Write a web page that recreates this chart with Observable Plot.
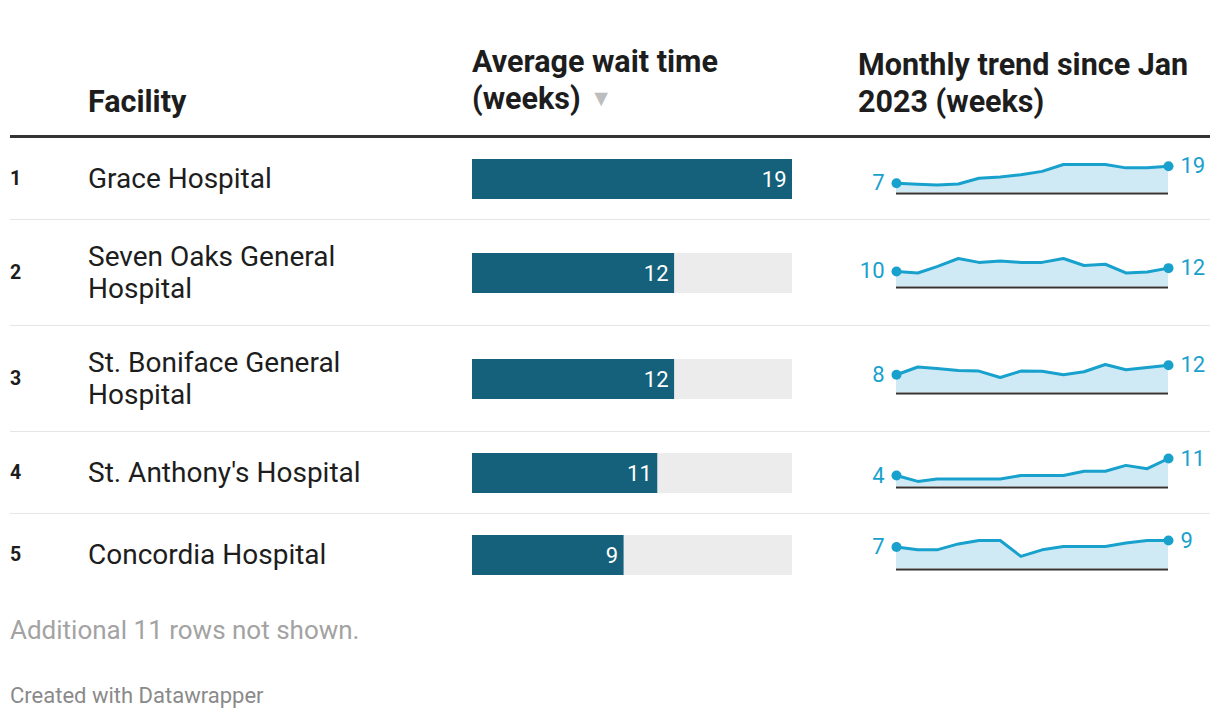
<!DOCTYPE html>
<html><head><meta charset="utf-8">
<script src="https://cdn.jsdelivr.net/npm/d3@7"></script>
<script src="https://cdn.jsdelivr.net/npm/@observablehq/plot@0.6"></script>
<style>
body{margin:0;background:#fff;font-family:Roboto,"Noto Sans",sans-serif;color:#1d1d1d;}
#wrap{position:relative;width:1200px;margin-left:10px;height:720px;}
.head{height:135px;border-bottom:3px solid #333;display:flex;align-items:flex-end;}
.head div{font-weight:700;font-size:30.5px;line-height:37px;padding-bottom:15px;}
.h0{width:78px}.h1{width:384px}.h2{width:386px}.h3{width:352px}
.tri{color:#bdbdbd;font-size:23px;position:relative;top:-3px;margin-left:9px}
.row{display:flex;align-items:center;padding:20.5px 0;border-bottom:1px solid #e6e6e6;}
.row:last-child{border-bottom:none}
.rank{width:78px;font-weight:700;font-size:19.5px;}
.name{width:384px;font-size:28px;line-height:32px;}
.bar{width:378px;height:40px}
.spark{width:360px;height:40px}
svg{display:block;overflow:visible}
.note{position:absolute;left:0;top:615px;font-size:26px;color:#a3a3a3;line-height:30px}
.credit{position:absolute;left:0;top:684px;font-size:22px;color:#8a8a8a;line-height:24px}
</style></head>
<body><div id="wrap">
<div class="head"><div class="h0"></div><div class="h1">Facility</div><div class="h2">Average wait time<br>(weeks)<span class="tri">▼</span></div><div class="h3">Monthly trend since Jan<br>2023 (weeks)</div></div>
<div id="rows"></div>
<div class="note">Additional 11 rows not shown.</div>
<div class="credit">Created with Datawrapper</div>
</div>
<script>
const facilities = ["Grace Hospital", "Seven Oaks General<br>Hospital", "St. Boniface General<br>Hospital", "St. Anthony's Hospital", "Concordia Hospital"];
const avgWait = [19, 12, 12, 11, 9];
const months = ["2023-01","2023-02","2023-03","2023-04","2023-05","2023-06","2023-07","2023-08","2023-09","2023-10","2023-11","2023-12","2024-01","2024-02"];
const trendGrace = [6.6, 5.9, 5.4, 6.1, 10.2, 11.0, 12.7, 15.1, 20.0, 20.0, 20.0, 17.6, 17.6, 18.8];
const trendSevenOaks = [9.7, 8.7, 12.8, 18.0, 15.5, 16.4, 15.5, 15.5, 18.0, 13.5, 14.3, 8.7, 9.3, 11.8];
const trendStBoniface = [7.8, 11.2, 10.5, 9.7, 9.4, 6.6, 9.4, 9.3, 7.8, 9.1, 12.3, 10.0, 11.0, 12.0];
const trendStAnthony = [4.3, 2.0, 2.95, 2.95, 2.95, 2.95, 4.3, 4.3, 4.3, 6.0, 6.0, 8.3, 7.0, 11.0];
const trendConcordia = [6.9, 6.0, 6.0, 7.9, 9.0, 9.0, 3.9, 6.0, 7.1, 7.1, 7.1, 8.2, 9.0, 9.0];
const trends = [trendGrace, trendSevenOaks, trendStBoniface, trendStAnthony, trendConcordia];

const BAR = "#15607a", BG = "#ececec", BLUE = "#18a1cd", AREA = "#cfeaf4";
const barMax = d3.max(avgWait);
const rowsEl = document.getElementById("rows");

facilities.forEach((name, i) => {
  const row = document.createElement("div");
  row.className = "row";
  row.innerHTML = `<div class="rank">${i + 1}</div><div class="name">${name}</div><div class="bar"></div><div class="spark"></div>`;
  rowsEl.appendChild(row);

  const bd = [{v: avgWait[i]}];
  const bar = Plot.plot({
    width: 320, height: 40, margin: 0,
    x: {domain: [0, barMax], axis: null},
    marks: [
      Plot.barX(bd, {x: () => barMax, fill: BG}),
      Plot.barX(bd, {x: "v", fill: BAR}),
      Plot.text(bd, {x: "v", text: d => d3.format(".0f")(d.v), textAnchor: "end", dx: -6, fill: "white", fontSize: 22, fontFamily: "Roboto"})
    ]
  });
  row.querySelector(".bar").appendChild(bar);

  const sd = months.map((m, k) => ({date: new Date(m + "-01T00:00:00Z"), v: trends[i][k]}));
  const ends = [sd[0], sd[sd.length - 1]];
  const spark = Plot.plot({
    width: 360, height: 40, marginLeft: 46, marginRight: 42, marginTop: 5, marginBottom: 7,
    x: {type: "utc", axis: null},
    y: {axis: null},
    marks: [
      Plot.areaY(sd, {x: "date", y: "v", fill: AREA}),
      Plot.ruleY([0], {stroke: "#333", strokeWidth: 2, dy: 1}),
      Plot.lineY(sd, {x: "date", y: "v", stroke: BLUE, strokeWidth: 3}),
      Plot.dot(ends, {x: "date", y: "v", r: 5, fill: BLUE}),
      Plot.text([ends[0]], {x: "date", y: "v", text: d => d3.format(".0f")(d.v), textAnchor: "end", dx: -12, fill: BLUE, fontSize: 22, fontFamily: "Roboto"}),
      Plot.text([ends[1]], {x: "date", y: "v", text: d => d3.format(".0f")(d.v), textAnchor: "start", dx: 12, fill: BLUE, fontSize: 22, fontFamily: "Roboto"})
    ]
  });
  row.querySelector(".spark").appendChild(spark);
});
</script>
</body></html>
